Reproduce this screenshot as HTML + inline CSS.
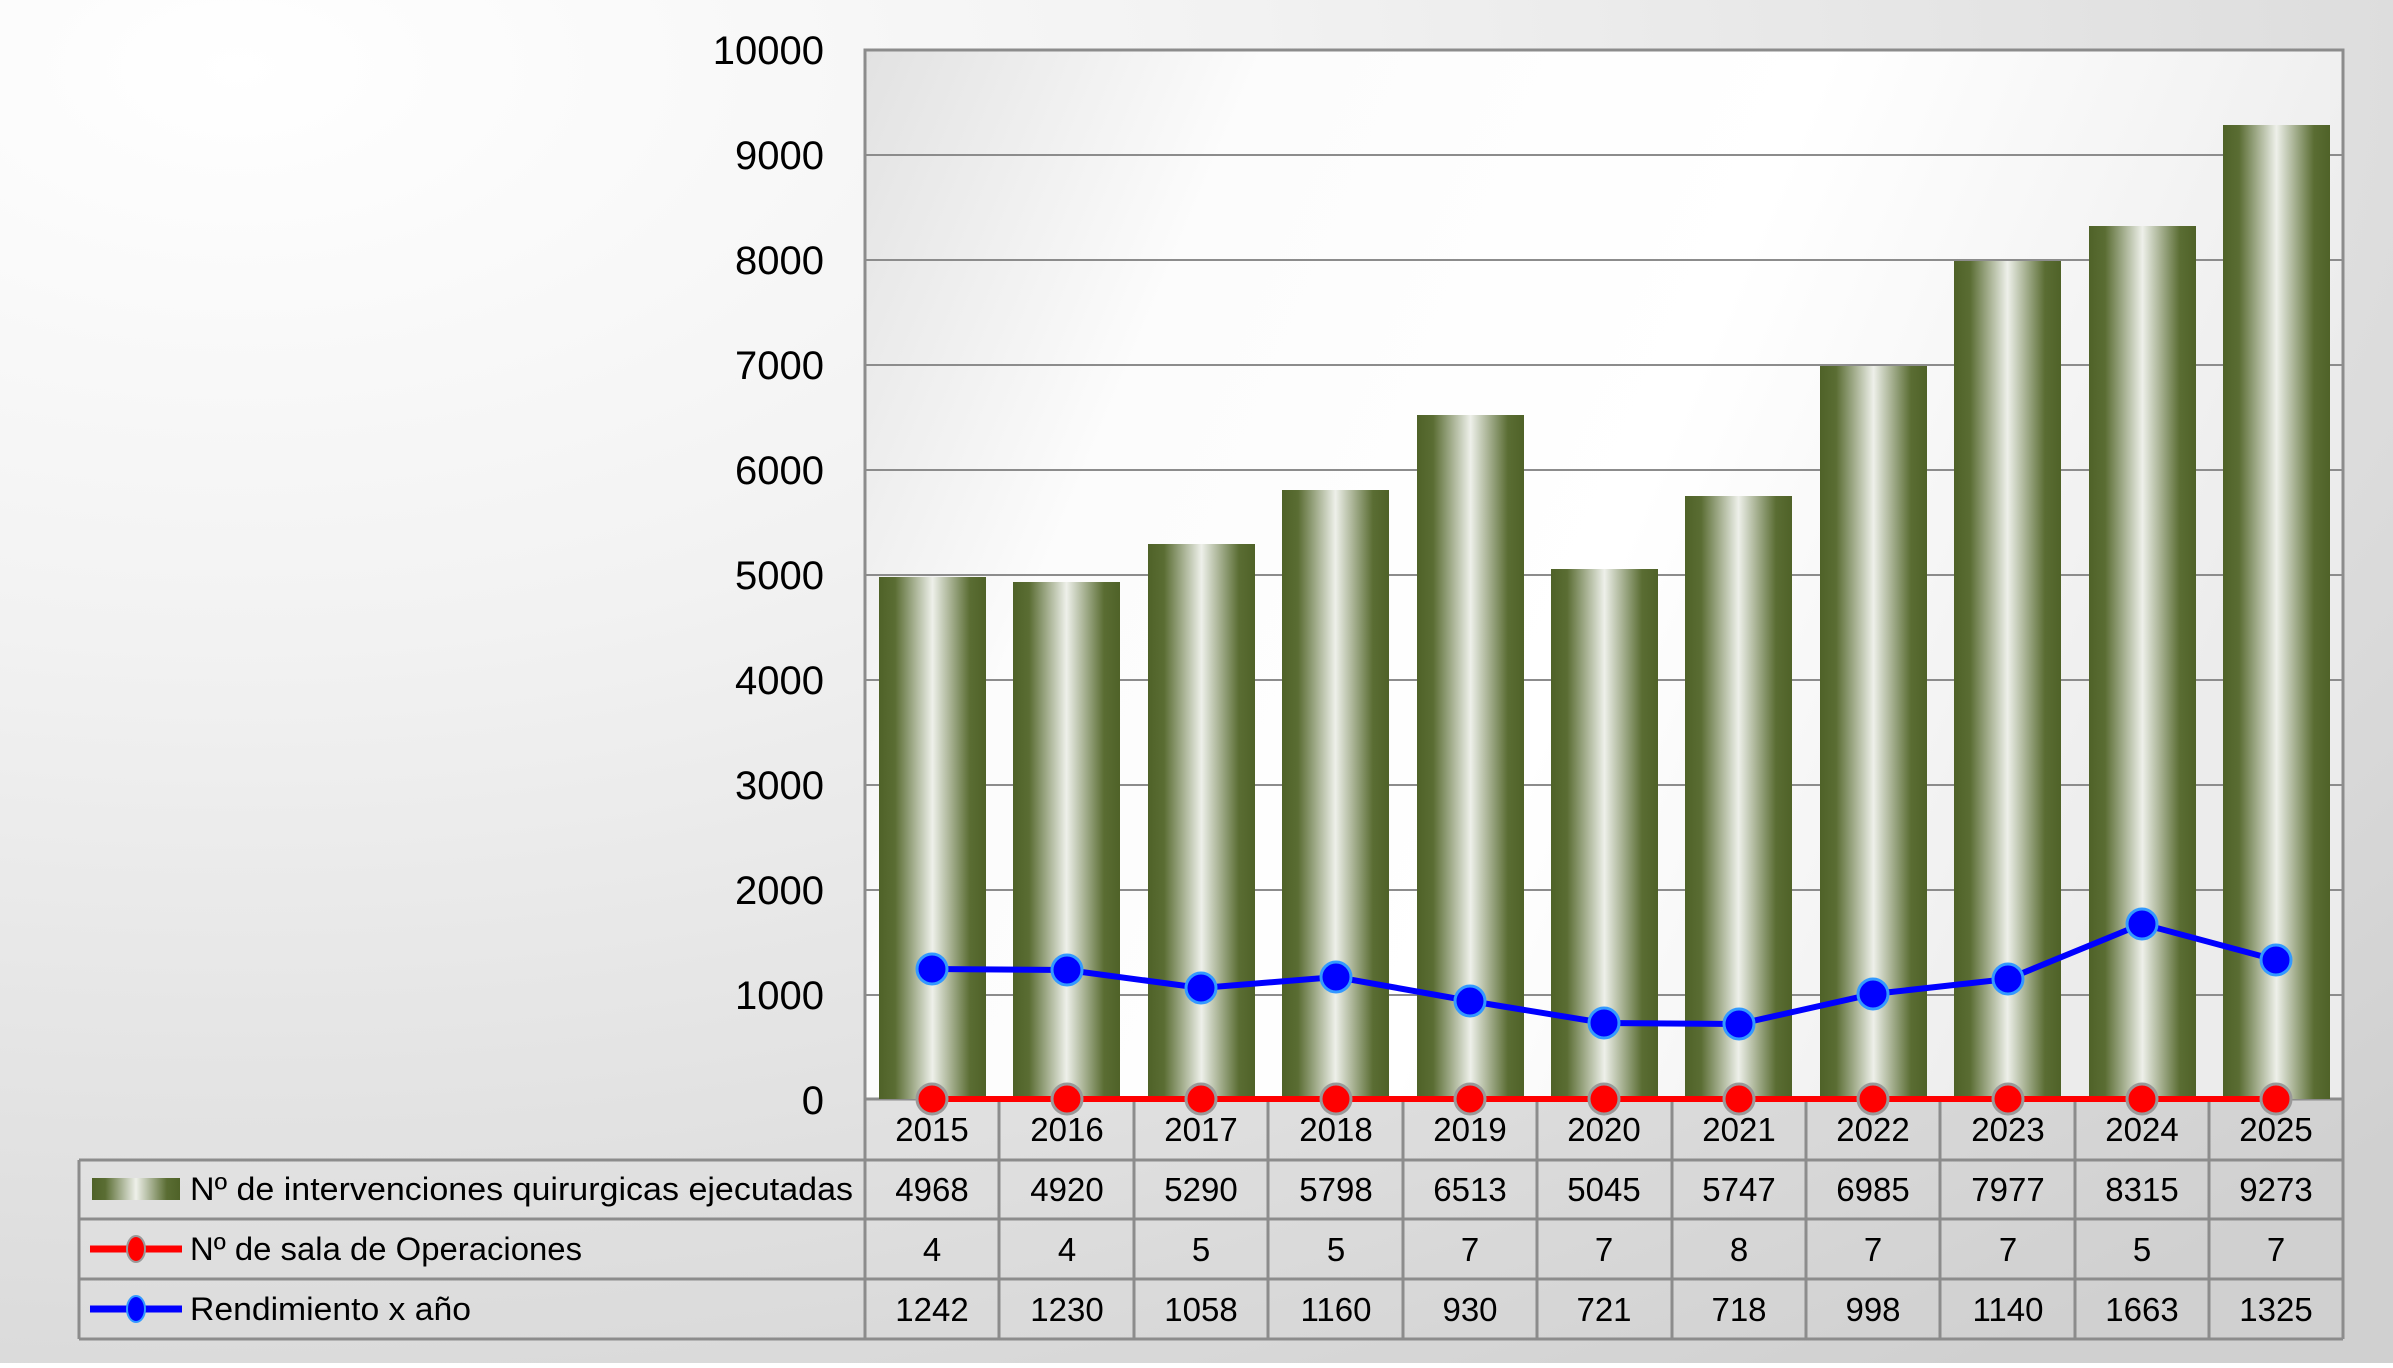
<!DOCTYPE html>
<html><head><meta charset="utf-8"><style>
html,body{margin:0;padding:0;}
body{width:2393px;height:1363px;overflow:hidden;font-family:"Liberation Sans",sans-serif;}
</style></head><body>
<svg width="2393" height="1363" viewBox="0 0 2393 1363" xmlns="http://www.w3.org/2000/svg" font-family="Liberation Sans, sans-serif">
<defs>
<radialGradient id="bg" cx="0.1" cy="0.05" r="1.2">
<stop offset="0" stop-color="#ffffff"/><stop offset="0.35" stop-color="#f2f2f2"/><stop offset="1" stop-color="#d0d0d0"/>
</radialGradient>
<linearGradient id="pa" x1="0" y1="0" x2="1" y2="0.3">
<stop offset="0" stop-color="#e2e2e2"/><stop offset="0.25" stop-color="#fcfcfc"/><stop offset="0.6" stop-color="#ffffff"/><stop offset="1" stop-color="#ececec"/>
</linearGradient>
<linearGradient id="bar" x1="0" y1="0" x2="1" y2="0">
<stop offset="0" stop-color="#4f6228"/><stop offset="0.15" stop-color="#5a6d33"/><stop offset="0.5" stop-color="#eef0ea"/><stop offset="0.85" stop-color="#5a6d33"/><stop offset="1" stop-color="#4f6228"/>
</linearGradient>
</defs>
<rect width="2393" height="1363" fill="url(#bg)"/>
<rect x="865" y="50" width="1478" height="1049" fill="url(#pa)"/>
<g stroke="#8c8c8c" stroke-width="2">
<line x1="865" y1="155" x2="2343" y2="155"/><line x1="865" y1="260" x2="2343" y2="260"/>
<line x1="865" y1="365" x2="2343" y2="365"/><line x1="865" y1="470" x2="2343" y2="470"/>
<line x1="865" y1="575" x2="2343" y2="575"/><line x1="865" y1="680" x2="2343" y2="680"/>
<line x1="865" y1="785" x2="2343" y2="785"/><line x1="865" y1="890" x2="2343" y2="890"/>
<line x1="865" y1="995" x2="2343" y2="995"/>
</g>
<rect x="865" y="50" width="1478" height="1049" fill="none" stroke="#8c8c8c" stroke-width="3"/>
<g font-size="40" text-anchor="end" fill="#000">
<text x="824" y="64">10000</text><text x="824" y="169">9000</text><text x="824" y="274">8000</text>
<text x="824" y="379">7000</text><text x="824" y="484">6000</text><text x="824" y="589">5000</text>
<text x="824" y="694">4000</text><text x="824" y="799">3000</text><text x="824" y="904">2000</text>
<text x="824" y="1009">1000</text><text x="824" y="1114">0</text>
</g>
<g fill="url(#bar)">
<rect x="879" y="577" width="107" height="522"/>
<rect x="1013" y="582" width="107" height="517"/>
<rect x="1148" y="544" width="107" height="555"/>
<rect x="1282" y="490" width="107" height="609"/>
<rect x="1417" y="415" width="107" height="684"/>
<rect x="1551" y="569" width="107" height="530"/>
<rect x="1685" y="496" width="107" height="603"/>
<rect x="1820" y="366" width="107" height="733"/>
<rect x="1954" y="261" width="107" height="838"/>
<rect x="2089" y="226" width="107" height="873"/>
<rect x="2223" y="125" width="107" height="974"/>
</g>
<g stroke="#8c8c8c" stroke-width="3" fill="none">
<line x1="79" y1="1160" x2="2343" y2="1160"/>
<line x1="79" y1="1219" x2="2343" y2="1219"/>
<line x1="79" y1="1279" x2="2343" y2="1279"/>
<line x1="79" y1="1339" x2="2343" y2="1339"/>
<line x1="79" y1="1160" x2="79" y2="1339"/>
<line x1="865" y1="1099" x2="865" y2="1339"/>
<line x1="999" y1="1099" x2="999" y2="1339"/><line x1="1134" y1="1099" x2="1134" y2="1339"/>
<line x1="1268" y1="1099" x2="1268" y2="1339"/><line x1="1403" y1="1099" x2="1403" y2="1339"/>
<line x1="1537" y1="1099" x2="1537" y2="1339"/><line x1="1672" y1="1099" x2="1672" y2="1339"/>
<line x1="1806" y1="1099" x2="1806" y2="1339"/><line x1="1940" y1="1099" x2="1940" y2="1339"/>
<line x1="2075" y1="1099" x2="2075" y2="1339"/><line x1="2209" y1="1099" x2="2209" y2="1339"/>
<line x1="2343" y1="1099" x2="2343" y2="1339"/>
</g>
<polyline points="932,1099 1067,1099 1201,1099 1336,1099 1470,1099 1604,1099 1739,1099 1873,1099 2008,1099 2142,1099 2276,1099" fill="none" stroke="#ff0000" stroke-width="6"/>
<g fill="#ff0000" stroke="#999" stroke-width="3">
<circle cx="932" cy="1099" r="15"/><circle cx="1067" cy="1099" r="15"/><circle cx="1201" cy="1099" r="15"/><circle cx="1336" cy="1099" r="15"/><circle cx="1470" cy="1099" r="15"/><circle cx="1604" cy="1099" r="15"/><circle cx="1739" cy="1099" r="15"/><circle cx="1873" cy="1099" r="15"/><circle cx="2008" cy="1099" r="15"/><circle cx="2142" cy="1099" r="15"/><circle cx="2276" cy="1099" r="15"/>
</g>
<polyline points="932,969 1067,970 1201,988 1336,977 1470,1001 1604,1023 1739,1024 1873,994 2008,979 2142,924 2276,960" fill="none" stroke="#0000ff" stroke-width="6"/>
<g fill="#0000ff" stroke="#3399ff" stroke-width="3">
<circle cx="932" cy="969" r="15"/><circle cx="1067" cy="970" r="15"/><circle cx="1201" cy="988" r="15"/><circle cx="1336" cy="977" r="15"/><circle cx="1470" cy="1001" r="15"/><circle cx="1604" cy="1023" r="15"/><circle cx="1739" cy="1024" r="15"/><circle cx="1873" cy="994" r="15"/><circle cx="2008" cy="979" r="15"/><circle cx="2142" cy="924" r="15"/><circle cx="2276" cy="960" r="15"/>
</g>
<g font-size="33" text-anchor="middle" fill="#000">
<text x="932" y="1141">2015</text><text x="1067" y="1141">2016</text><text x="1201" y="1141">2017</text><text x="1336" y="1141">2018</text><text x="1470" y="1141">2019</text><text x="1604" y="1141">2020</text><text x="1739" y="1141">2021</text><text x="1873" y="1141">2022</text><text x="2008" y="1141">2023</text><text x="2142" y="1141">2024</text><text x="2276" y="1141">2025</text>
<text x="932" y="1201">4968</text><text x="1067" y="1201">4920</text><text x="1201" y="1201">5290</text><text x="1336" y="1201">5798</text><text x="1470" y="1201">6513</text><text x="1604" y="1201">5045</text><text x="1739" y="1201">5747</text><text x="1873" y="1201">6985</text><text x="2008" y="1201">7977</text><text x="2142" y="1201">8315</text><text x="2276" y="1201">9273</text>
<text x="932" y="1261">4</text><text x="1067" y="1261">4</text><text x="1201" y="1261">5</text><text x="1336" y="1261">5</text><text x="1470" y="1261">7</text><text x="1604" y="1261">7</text><text x="1739" y="1261">8</text><text x="1873" y="1261">7</text><text x="2008" y="1261">7</text><text x="2142" y="1261">5</text><text x="2276" y="1261">7</text>
<text x="932" y="1321">1242</text><text x="1067" y="1321">1230</text><text x="1201" y="1321">1058</text><text x="1336" y="1321">1160</text><text x="1470" y="1321">930</text><text x="1604" y="1321">721</text><text x="1739" y="1321">718</text><text x="1873" y="1321">998</text><text x="2008" y="1321">1140</text><text x="2142" y="1321">1663</text><text x="2276" y="1321">1325</text>
</g>
<rect x="92" y="1178" width="88" height="22" fill="url(#bar)"/>
<line x1="90" y1="1249" x2="182" y2="1249" stroke="#ff0000" stroke-width="7"/>
<ellipse cx="136" cy="1249" rx="9" ry="13" fill="#ff0000" stroke="#999" stroke-width="2"/>
<line x1="90" y1="1309" x2="182" y2="1309" stroke="#0000ff" stroke-width="7"/>
<ellipse cx="136" cy="1309" rx="9" ry="13" fill="#0000ff" stroke="#3399ff" stroke-width="2"/>
<g font-size="32" fill="#000">
<text x="190" y="1200" textLength="663" lengthAdjust="spacingAndGlyphs">Nº  de intervenciones quirurgicas ejecutadas</text>
<text x="190" y="1260" textLength="392" lengthAdjust="spacingAndGlyphs">Nº de sala de Operaciones</text>
<text x="190" y="1320" textLength="281" lengthAdjust="spacingAndGlyphs">Rendimiento x año</text>
</g>
</svg>
</body></html>
